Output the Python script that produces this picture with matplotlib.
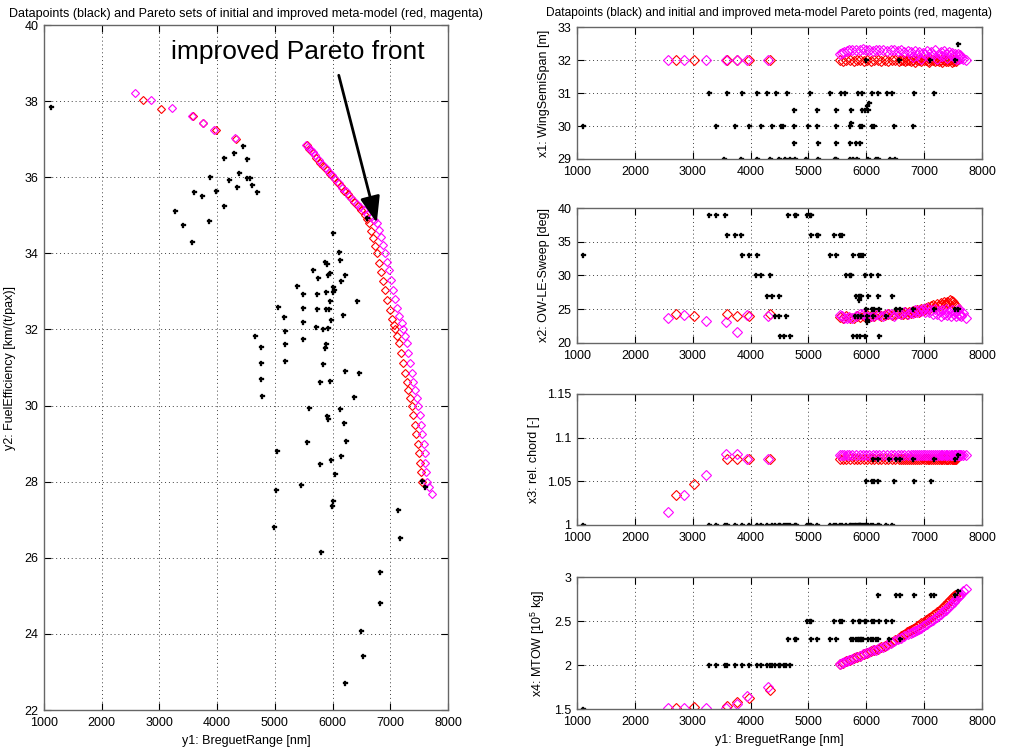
import matplotlib
matplotlib.use("Agg")
import matplotlib.pyplot as plt
from matplotlib.ticker import FuncFormatter

plt.rcParams["font.family"] = ["Liberation Sans", "DejaVu Sans"]
plt.rcParams["mathtext.default"] = "regular"
plt.rcParams["font.size"] = 9

# ---- datapoints (black), objective space ----
dp_y1 = [1121, 4453, 4297, 4112, 4522, 4378, 3869, 4510, 4568, 4199, 3604, 4349, 4609, 3737,
         3985, 4689, 4112, 3275, 3413, 3852, 3558, 6589, 6012, 6110, 6133, 5867, 5896, 5654,
         5752, 6208, 5954, 5925, 6144, 5388, 6012, 6029, 6012, 5486, 5729, 5885, 5954, 6421,
         5047, 5163, 5486, 5729, 5879, 5942, 6173, 5971, 5486, 5711, 5833, 5913, 4655, 5174,
         5486, 4764, 5180, 5879, 5867, 4753, 5180, 5833, 6208, 6456, 4764, 5781, 5948,
         4782, 6375, 5590, 6133, 5908, 5919, 6202, 5550, 6225, 5042, 6144, 5781, 5977, 6040,
         7553, 7605, 5457, 5013, 6000, 5983, 7126, 4984, 7166, 5804, 6826, 6814, 6485, 6520, 6208]
dp_y2 = [37.85, 36.83, 36.65, 36.50, 36.48, 36.11, 36.00, 35.97, 35.97, 35.92, 35.62, 35.75, 35.79, 35.50,
         35.64, 35.62, 35.25, 35.10, 34.75, 34.85, 34.31, 34.94, 34.53, 34.04, 33.83, 33.76, 33.73, 33.56,
         33.34, 33.43, 33.49, 33.44, 33.28, 33.15, 33.12, 33.03, 32.99, 32.93, 32.93, 32.99, 32.75, 32.76,
         32.59, 32.34, 32.57, 32.54, 32.53, 32.54, 32.38, 32.26, 32.19, 32.07, 32.00, 32.05, 31.84, 31.96,
         31.76, 31.54, 31.62, 31.62, 31.50, 31.12, 31.18, 31.10, 30.92, 30.86, 30.69, 30.61, 30.64,
         30.25, 30.23, 29.93, 29.90, 29.73, 29.66, 29.55, 29.05, 29.07, 28.80, 28.68, 28.47, 28.57, 28.20,
         28.02, 27.85, 27.90, 27.79, 27.50, 27.37, 27.25, 26.80, 26.52, 26.14, 25.64, 24.82, 24.07, 23.42, 22.70]

# ---- datapoints (black), design variables vs y1 ----
dp1_y1 = [3275, 3598, 3857, 4105, 4289, 4445, 4635, 5032, 5378, 5568, 5631, 5856, 5925, 6098, 6207, 6357, 6444, 6818, 7164,
          4750, 5147, 5476, 5741, 5925, 5971, 6029, 6020, 6040,
          1104, 3396, 3730, 3972, 4180, 4364, 4525, 4566, 4750, 4998, 5147, 5476, 5717, 5890, 5919, 6098, 6133, 6478, 6806, 5740,
          4750, 5170, 5476, 5712, 5827, 5885,
          3546, 3840, 4105, 4330, 4485, 4600, 4675, 4773, 4963, 5164, 5458, 5481, 5723, 5770, 5839, 6029, 6173, 6207, 6403, 6501,
          5995, 6571, 7103, 7535, 7590]
dp1_x1 = [31, 31, 31, 31, 31, 31, 31, 31, 31, 31, 31, 31, 31, 31, 31, 31, 31, 31, 31,
          30.5, 30.5, 30.5, 30.5, 30.5, 30.5, 30.5, 30.6, 30.7,
          30, 30, 30, 30, 30, 30, 30, 30, 30, 30, 30, 30, 30, 30, 30, 30, 30, 30, 30, 30.1,
          29.5, 29.5, 29.5, 29.5, 29.5, 29.5,
          29, 29, 29, 29, 29, 29, 29, 29, 29, 29, 29, 29, 29, 29, 29, 29, 29, 29, 29, 29,
          32, 32, 32, 32, 32.5]

dp2_y1 = [1104, 3851, 3967, 4105, 5378, 5482, 5770, 5873, 5902, 5942,
          3281, 3408, 3552, 4646, 4762, 4779, 4980, 5021, 5038,
          3598, 3725, 3840, 5038, 5153, 5170, 5441, 5539, 5585,
          4101, 4187, 4330, 5643, 5712, 5741, 5971, 6075, 6202,
          4283, 4370, 4491, 5827, 5867, 5896, 5913, 6029, 6202, 6444, 5880,
          6000, 6104, 6138, 6219, 6518, 6576, 6806, 7169, 7527, 7584,
          4422, 4485, 4617, 5798, 5856, 5913, 6012, 6115, 6346, 6012, 6015,
          4502, 4577, 4675, 5770, 5833, 5885, 5971, 6219]
dp2_x2 = [33, 33, 33, 33, 33, 33, 33, 33, 33, 33,
          39, 39, 39, 39, 39, 39, 39, 39, 39,
          36, 36, 36, 36, 36, 36, 36, 36, 36,
          30, 30, 30, 30, 30, 30, 30, 30, 30,
          27, 27, 27, 27, 27, 27, 27, 27, 27, 27, 26.4,
          25, 25, 25, 25, 25, 25, 25, 25, 25, 25,
          24, 24, 24, 24, 24, 24, 24, 24, 24, 23.4, 23.0,
          21, 21, 21, 21, 21, 21, 21, 21]

dp3_y1 = [1104, 3281, 3408, 3552, 3598, 3725, 3851, 3967, 4105, 4186, 4283, 4370, 4422, 4485, 4502, 4577, 4617,
          4646, 4675, 4762, 4779, 4980, 5021, 5038, 5153, 5378, 5441, 5482, 5539, 5585, 5643, 5712, 5741,
          5770, 5798, 5827, 5856, 5873, 5885, 5896, 5913, 5942, 5971, 6000, 6029, 6075, 6115, 6202, 6219,
          6346, 6444,
          6000, 6104, 6138, 6202, 6478, 6818, 7112,
          6115, 6207, 6392, 6518, 6576, 6806, 7169, 7527,
          7584]
dp3_x3 = [1, 1, 1, 1, 1, 1, 1, 1, 1, 1, 1, 1, 1, 1, 1, 1, 1,
          1, 1, 1, 1, 1, 1, 1, 1, 1, 1, 1, 1, 1, 1, 1, 1,
          1, 1, 1, 1, 1, 1, 1, 1, 1, 1, 1, 1, 1, 1, 1, 1,
          1, 1,
          1.05, 1.05, 1.05, 1.05, 1.05, 1.05, 1.05,
          1.075, 1.075, 1.075, 1.075, 1.075, 1.075, 1.075, 1.075,
          1.08]

dp4_y1 = [1104,
          3281, 3408, 3552, 3598, 3725, 3851, 3967, 4105, 4186, 4283, 4330, 4370, 4422, 4485, 4502, 4577, 4617, 4675,
          4646, 4762, 4779, 5038, 5153, 5378, 5482, 5741, 5770, 5827, 5856, 5873, 5902, 5913, 5942, 6029, 6075,
          6115, 6173, 6202, 6392, 6576,
          4980, 5021, 5038, 5441, 5539, 5585, 5770, 5873, 5896, 5971, 6000, 6104, 6138, 6219, 6346, 6444,
          6202, 6518, 6576, 6818, 7112, 7169, 7527, 7584]
dp4_x4 = [1.5,
          2, 2, 2, 2, 2, 2, 2, 2, 2, 2, 2, 2, 2, 2, 2, 2, 2, 2,
          2.3, 2.3, 2.3, 2.3, 2.3, 2.3, 2.3, 2.3, 2.3, 2.3, 2.3, 2.3, 2.3, 2.3, 2.3, 2.3, 2.3,
          2.3, 2.3, 2.3, 2.3, 2.3,
          2.5, 2.5, 2.5, 2.5, 2.5, 2.5, 2.5, 2.5, 2.5, 2.5, 2.5, 2.5, 2.5, 2.5, 2.5, 2.5,
          2.8, 2.8, 2.8, 2.8, 2.8, 2.8, 2.8, 2.84]

# ---- Pareto points of improved meta-model (magenta) ----
imp_y1 = [2576, 2853, 3225, 3570, 3762, 3940, 4310,
          5538, 5580, 5620, 5660, 5700, 5757, 5820, 5884, 5940, 5988,
          6050, 6110, 6170, 6225, 6290, 6361, 6420, 6480, 6540, 6600,
          6660, 6715, 6766, 6800, 6835, 6870, 6910, 6945, 6980, 7018,
          7054, 7090, 7125, 7160, 7195, 7227, 7250, 7286, 7315, 7345,
          7372, 7400, 7430, 7460, 7487, 7510, 7535, 7558, 7580,
          7595, 7607, 7620, 7633, 7675, 7719]
imp_y2 = [38.21, 38.03, 37.83, 37.62, 37.42, 37.24, 37.03,
          36.85, 36.79, 36.72, 36.66, 36.58, 36.45, 36.35, 36.25, 36.15, 36.05,
          35.95, 35.84, 35.73, 35.63, 35.52, 35.40, 35.31, 35.22, 35.13, 35.04,
          34.95, 34.87, 34.79, 34.62, 34.42, 34.22, 34.00, 33.78, 33.55, 33.30,
          33.04, 32.80, 32.57, 32.36, 32.17, 32.00, 31.84, 31.64, 31.38, 31.11,
          30.85, 30.63, 30.42, 30.21, 30.00, 29.75, 29.50, 29.25, 29.00,
          28.75, 28.50, 28.25, 28.00, 27.85, 27.68]
imp_x1 = [32, 32, 32, 32, 32, 32, 32,
          32.18, 32.22, 32.26, 32.28, 32.30, 32.30, 32.32, 32.32, 32.33, 32.30,
          32.30, 32.28, 32.30, 32.32, 32.30, 32.28, 32.30, 32.30, 32.28, 32.30,
          32.26, 32.28, 32.25, 32.10, 32.28, 32.15, 32.25, 32.05, 32.22, 32.18,
          32.28, 32.10, 32.25, 32.15, 32.30, 32.05, 32.20, 32.25, 32.12, 32.28,
          32.18, 32.08, 32.25, 32.15, 32.22, 32.10, 32.20, 32.05, 32.18,
          32.12, 32.05, 32.15, 32.08, 32.05, 32.02]
imp_x2 = [23.6, 24.1, 23.2, 23.0, 21.6, 24.1, 24.0,
          24.1, 23.9, 23.7, 23.6, 23.8, 23.6, 24.0, 24.3, 24.2, 24.0,
          23.8, 24.0, 24.2, 24.1, 23.9, 24.2, 24.3, 24.0, 24.4, 24.2,
          24.5, 24.3, 24.6, 24.4, 24.8, 24.5, 24.9, 24.7, 25.0, 24.6,
          25.1, 24.5, 24.9, 24.3, 25.0, 24.2, 24.7, 24.0, 24.8, 24.3,
          25.0, 24.1, 24.6, 23.9, 24.9, 24.2, 24.5, 23.9, 24.8,
          24.1, 25.0, 24.3, 23.9, 24.4, 23.7]
imp_x3 = [1.0145, 1.0348, 1.057, 1.081, 1.081, 1.076, 1.076,
          1.08, 1.08, 1.08, 1.08, 1.08, 1.08, 1.08, 1.08, 1.08, 1.08,
          1.08, 1.08, 1.08, 1.08, 1.08, 1.08, 1.08, 1.08, 1.08, 1.08,
          1.08, 1.08, 1.08, 1.08, 1.08, 1.08, 1.08, 1.08, 1.08, 1.08,
          1.08, 1.08, 1.08, 1.08, 1.08, 1.08, 1.08, 1.08, 1.08, 1.08,
          1.08, 1.08, 1.08, 1.08, 1.08, 1.08, 1.08, 1.08, 1.08,
          1.08, 1.08, 1.08, 1.08, 1.08, 1.08]
imp_x4 = [1.51, 1.51, 1.51, 1.51, 1.556, 1.65, 1.75,
          2.01, 2.02, 2.03, 2.04, 2.055, 2.07, 2.09, 2.105, 2.12, 2.135,
          2.15, 2.165, 2.175, 2.19, 2.21, 2.23, 2.25, 2.27, 2.29, 2.31,
          2.33, 2.35, 2.365, 2.375, 2.39, 2.40, 2.41, 2.425, 2.44, 2.455,
          2.47, 2.485, 2.50, 2.515, 2.535, 2.55, 2.565, 2.58, 2.60, 2.615,
          2.63, 2.645, 2.665, 2.685, 2.705, 2.72, 2.74, 2.755, 2.77,
          2.78, 2.79, 2.80, 2.81, 2.84, 2.86]

# ---- Pareto points of initial meta-model (red) ----
ini_y1 = [2720, 3030, 3585, 3762, 3980, 4335,
          5550, 5600, 5654, 5720, 5780, 5840, 5900, 5960, 6020, 6080,
          6140, 6200, 6260, 6320, 6380, 6440, 6500, 6560, 6600, 6638,
          6670, 6700, 6735, 6766, 6800, 6835, 6870, 6910, 6950, 6990,
          7030, 7060, 7083, 7120, 7158, 7190, 7225, 7256, 7285, 7315,
          7345, 7372, 7395, 7420, 7450, 7487, 7500, 7515, 7530, 7546]
ini_y2 = [38.03, 37.80, 37.61, 37.42, 37.24, 37.01,
          36.84, 36.74, 36.64, 36.50, 36.38, 36.30, 36.20, 36.08, 35.98, 35.87,
          35.76, 35.65, 35.55, 35.45, 35.35, 35.25, 35.13, 35.00, 34.90, 34.79,
          34.60, 34.40, 34.20, 34.00, 33.75, 33.52, 33.28, 33.04, 32.78, 32.52,
          32.28, 32.12, 32.00, 31.82, 31.64, 31.38, 31.11, 30.85, 30.63, 30.42,
          30.21, 30.00, 29.75, 29.50, 29.25, 29.00, 28.75, 28.50, 28.25, 28.00]
ini_x1 = [32, 32, 32, 32, 32, 32,
          32.0, 31.98, 32.0, 32.02, 31.97, 32.0, 32.02, 31.98, 32.0, 31.97,
          32.0, 32.02, 31.98, 32.0, 31.97, 32.01, 32.0, 31.98, 32.02, 32.0,
          31.97, 32.0, 32.02, 31.98, 32.0, 31.96, 32.01, 32.0, 31.97, 32.02,
          32.0, 31.98, 31.96, 32.0, 32.02, 31.97, 32.0, 31.98, 32.01, 31.96,
          32.0, 31.97, 32.02, 31.98, 32.0, 31.96, 32.0, 31.98, 32.01, 31.97]
ini_x2 = [24.3, 24.0, 24.3, 23.9, 24.0, 24.2,
          23.8, 23.6, 23.9, 23.6, 23.7, 24.0, 23.8, 23.9, 24.1, 23.9,
          24.0, 24.2, 24.0, 24.1, 24.3, 24.1, 24.2, 24.4, 24.2, 24.3,
          24.5, 24.3, 24.6, 24.4, 24.7, 24.5, 24.8, 24.6, 25.0, 24.8,
          25.1, 25.3, 25.0, 25.4, 25.6, 25.3, 25.7, 25.5, 25.9, 25.6,
          26.0, 25.8, 26.1, 25.9, 26.3, 26.2, 26.0, 25.8, 25.6, 25.4]
ini_x3 = [1.0344, 1.047, 1.0754, 1.075, 1.076, 1.0758,
          1.075, 1.075, 1.075, 1.075, 1.075, 1.075, 1.075, 1.075, 1.075, 1.075,
          1.075, 1.075, 1.075, 1.075, 1.075, 1.075, 1.075, 1.075, 1.075, 1.075,
          1.075, 1.075, 1.075, 1.075, 1.075, 1.075, 1.075, 1.075, 1.075, 1.075,
          1.075, 1.075, 1.075, 1.075, 1.075, 1.075, 1.075, 1.075, 1.075, 1.075,
          1.075, 1.075, 1.075, 1.075, 1.075, 1.075, 1.075, 1.075, 1.075, 1.075]
ini_x4 = [1.507, 1.52, 1.53, 1.575, 1.63, 1.72,
          2.01, 2.025, 2.04, 2.06, 2.075, 2.09, 2.105, 2.12, 2.14, 2.155,
          2.17, 2.185, 2.20, 2.22, 2.24, 2.26, 2.28, 2.305, 2.325, 2.34,
          2.355, 2.37, 2.385, 2.40, 2.41, 2.425, 2.44, 2.46, 2.475, 2.49,
          2.51, 2.52, 2.535, 2.55, 2.565, 2.58, 2.60, 2.615, 2.63, 2.65,
          2.665, 2.68, 2.70, 2.715, 2.735, 2.76, 2.77, 2.78, 2.79, 2.80]

y1_ticks = [1000, 2000, 3000, 4000, 5000, 6000, 7000, 8000]


def style_axes(ax, ylim, yticks):
    ax.set_xlim(1000, 8000)
    ax.set_ylim(*ylim)
    ax.set_xticks(y1_ticks)
    ax.set_yticks(yticks)
    ax.yaxis.set_major_formatter(FuncFormatter(lambda v, p: f"{v:g}"))
    ax.xaxis.set_major_formatter(FuncFormatter(lambda v, p: f"{v:g}"))
    ax.grid(True, color="0.25", linestyle=(0, (1, 3)), linewidth=0.7)
    ax.tick_params(direction="in", top=True, right=True, length=5, width=0.8,
                   labelsize=9)
    ax.tick_params(axis="x", pad=5)
    ax.tick_params(axis="y", pad=4)
    for s in ax.spines.values():
        s.set_color("0.4")
        s.set_linewidth(1.0)
    ax.set_axisbelow(True)


def draw_sets(ax, ini_y, imp_y, dx, dy, ms):
    ax.plot(ini_y1, ini_y, "D", ms=ms, mfc="none", mec="#ff0000", mew=0.8, ls="none")
    ax.plot(imp_y1, imp_y, "D", ms=ms, mfc="none", mec="#ff00ff", mew=0.8, ls="none")
    ax.plot(dx, dy, "P", ms=3.6, color="k", mec="k", mew=0.2, ls="none")


fig = plt.figure(figsize=(10.11, 7.47), dpi=100)

# left: objective space
ax = fig.add_axes([0.0435, 0.0495, 0.3996, 0.9170])
draw_sets(ax, ini_y2, imp_y2, dp_y1, dp_y2, 4.5)
style_axes(ax, (22, 40), [22, 24, 26, 28, 30, 32, 34, 36, 38, 40])
ax.set_xlabel("y1: BreguetRange [nm]", fontsize=9)
ax.set_ylabel("y2: FuelEfficiency [km/(t/pax)]", fontsize=9, labelpad=6)
ax.set_title("Datapoints (black) and Pareto sets of initial and improved meta-model (red, magenta)",
             fontsize=9, pad=6)
ax.annotate("improved Pareto front", xy=(6766, 34.80), xytext=(5400, 39.28),
            fontsize=19, ha="center", va="center",
            arrowprops=dict(arrowstyle="-|>,head_length=0.8,head_width=0.3",
                            mutation_scale=20, lw=2, color="k",
                            shrinkA=6, shrinkB=0, relpos=(0.65, 0.0)))

# right: design variables
right_left, right_width = 0.5707, 0.4006
panels = [
    (0.78715, 0.1763, ini_x1, imp_x1, dp1_y1, dp1_x1, (29, 33), [29, 30, 31, 32, 33], "x1: WingSemiSpan [m]"),
    (0.54123, 0.1803, ini_x2, imp_x2, dp2_y1, dp2_x2, (20, 40), [20, 25, 30, 35, 40], "x2: OW-LE-Sweep [deg]"),
    (0.29719, 0.17537, ini_x3, imp_x3, dp3_y1, dp3_x3, (1, 1.15), [1, 1.05, 1.1, 1.15], "x3: rel. chord [-]"),
    (0.05087, 0.1767, ini_x4, imp_x4, dp4_y1, dp4_x4, (1.5, 3), [1.5, 2, 2.5, 3], "x4: MTOW [10$^5$ kg]"),
]
for i, (bot, h, iy, my, dx, dy, ylim, yt, lab) in enumerate(panels):
    axr = fig.add_axes([right_left, bot, right_width, h])
    draw_sets(axr, iy, my, dx, dy, 5)
    style_axes(axr, ylim, yt)
    axr.set_ylabel(lab, fontsize=9, labelpad=5)
    if i == 0:
        axr.set_title("Datapoints (black) and initial and improved meta-model Pareto points (red, magenta)",
                      fontsize=8.6, pad=8, x=0.475)
    if i == 3:
        axr.set_xlabel("y1: BreguetRange [nm]", fontsize=9)

fig.savefig("out.png", dpi=100)
